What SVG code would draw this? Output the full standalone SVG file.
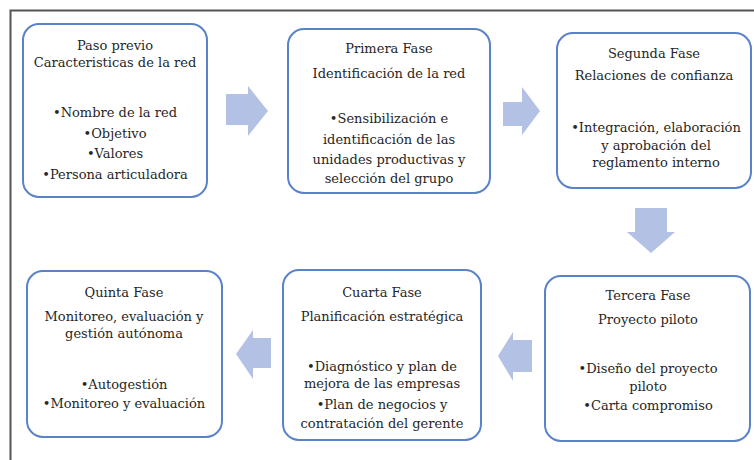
<svg xmlns="http://www.w3.org/2000/svg" width="754" height="460" viewBox="0 0 754 460">
<style>
.box{fill:#fff;stroke:#5a82c8;stroke-width:2}
.arr{fill:#b3c1e4;stroke:none}
.t text{font-family:'DejaVu Serif','Liberation Serif',serif;font-size:13px;fill:#262626;text-anchor:middle}
</style>
<rect width="754" height="460" fill="#fff"/>
<path d="M10.5 460 V10.5 H754" fill="none" stroke="#555" stroke-width="2"/>
<g id="connectors">
<polygon class="arr" points="226,94 248,94 248,86 268,111 248,136 248,125 226,125"/>
<polygon class="arr" points="503,102 522,102 522,87 540,111 522,135 522,126 503,126"/>
<polygon class="arr" points="635,208 667,208 667,232 675,232 651,253 627,232 635,232"/>
<polygon class="arr" points="532,340 513,340 513,332 498,356 513,381 513,372 532,372"/>
<polygon class="arr" points="271,338 253,338 253,330 236,354 253,379 253,368 271,368"/>
</g>
<g class="t">
<g id="paso-previo">
<rect class="box" x="23" y="24" width="184" height="173" rx="16"/>
<text x="115" y="50">Paso previo</text>
<text x="115" y="67">Caracteristicas de la red</text>
<text x="115" y="117">•Nombre de la red</text>
<text x="115" y="138">•Objetivo</text>
<text x="115" y="158">•Valores</text>
<text x="115" y="179">•Persona articuladora</text>
</g>
<g id="primera-fase">
<rect class="box" x="288" y="29" width="202" height="164" rx="16"/>
<text x="389" y="53">Primera Fase</text>
<text x="389" y="78">Identificación de la red</text>
<text x="389" y="123">•Sensibilización e</text>
<text x="389" y="144">identificación de las</text>
<text x="389" y="164">unidades productivas y</text>
<text x="389" y="183">selección del grupo</text>
</g>
<g id="segunda-fase">
<rect class="box" x="557" y="33" width="194" height="155" rx="16"/>
<text x="654" y="58">Segunda Fase</text>
<text x="654" y="80">Relaciones de confianza</text>
<text x="656" y="132">•Integración, elaboración</text>
<text x="656" y="150">y aprobación del</text>
<text x="656" y="167">reglamento interno</text>
</g>
<g id="tercera-fase">
<rect class="box" x="545" y="276" width="205" height="165" rx="16"/>
<text x="648" y="300">Tercera Fase</text>
<text x="648" y="324">Proyecto piloto</text>
<text x="648" y="373">•Diseño del proyecto</text>
<text x="648" y="391">piloto</text>
<text x="648" y="410">•Carta compromiso</text>
</g>
<g id="cuarta-fase">
<rect class="box" x="283" y="270" width="198" height="170" rx="16"/>
<text x="382" y="297">Cuarta Fase</text>
<text x="382" y="321">Planificación estratégica</text>
<text x="382" y="371">•Diagnóstico y plan de</text>
<text x="382" y="388">mejora de las empresas</text>
<text x="382" y="409">•Plan de negocios y</text>
<text x="382" y="428">contratación del gerente</text>
</g>
<g id="quinta-fase">
<rect class="box" x="27" y="271" width="195" height="166" rx="16"/>
<text x="124" y="297">Quinta Fase</text>
<text x="124" y="321">Monitoreo, evaluación y</text>
<text x="124" y="338">gestión autónoma</text>
<text x="124" y="389">•Autogestión</text>
<text x="124" y="408">•Monitoreo y evaluación</text>
</g>
</g>
</svg>
